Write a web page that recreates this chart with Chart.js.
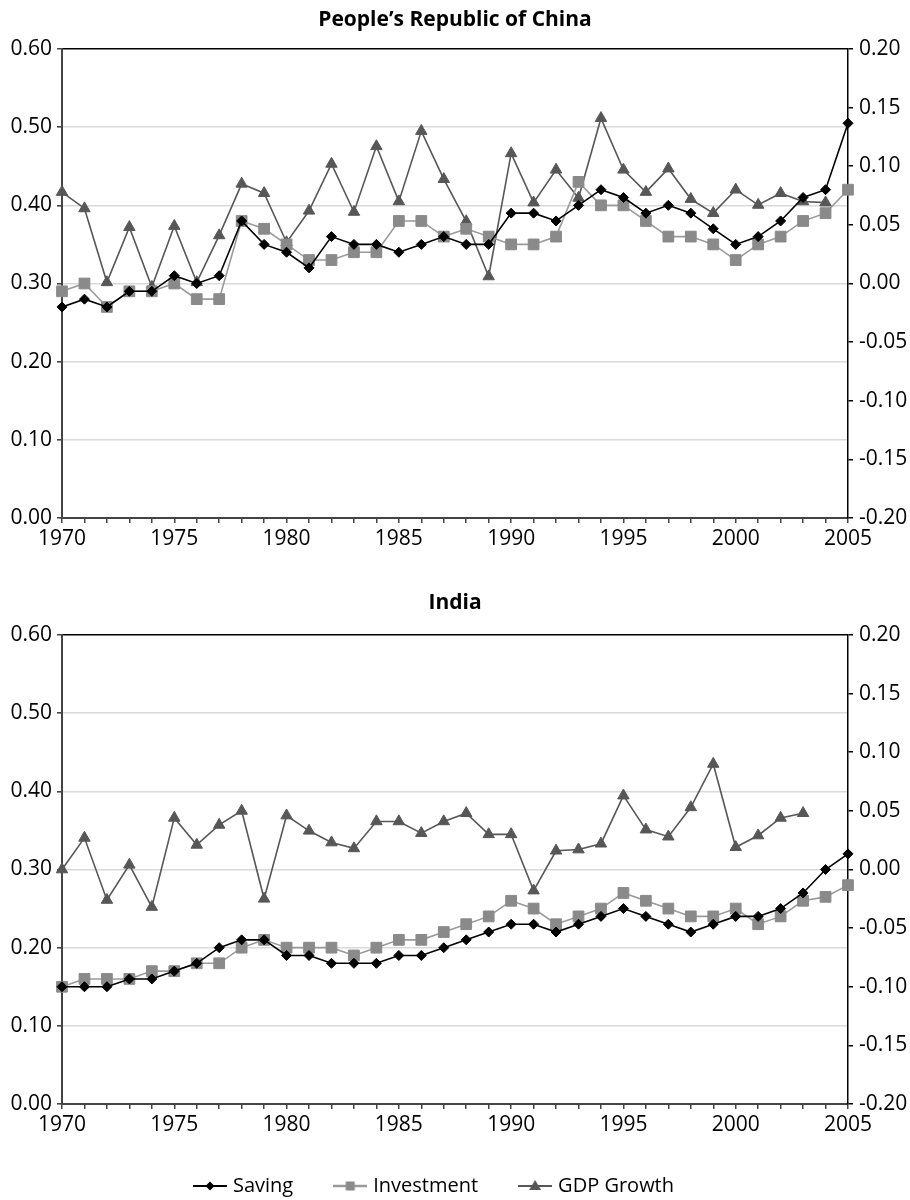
<!DOCTYPE html>
<html><head><meta charset="utf-8">
<script src="https://cdn.jsdelivr.net/npm/chart.js@4.4.0/dist/chart.umd.min.js"></script>
<style>
html,body{margin:0;padding:0;background:#fff;overflow:hidden;width:910px;height:1200px;}
#c1{position:absolute;left:0;top:0;}
#c2{position:absolute;left:0;top:580px;}
</style></head><body>
<canvas id="c1" width="910" height="580"></canvas>
<canvas id="c2" width="910" height="626"></canvas>
<script>
// ---- data ----
const years = [1970,1971,1972,1973,1974,1975,1976,1977,1978,1979,1980,1981,1982,1983,1984,1985,1986,1987,1988,1989,1990,1991,1992,1993,1994,1995,1996,1997,1998,1999,2000,2001,2002,2003,2004,2005];
const yearLabels = [1970,1975,1980,1985,1990,1995,2000,2005];
const seriesNames = ['Saving','Investment','GDP Growth'];
const chartTitles = ['People\u2019s Republic of China','India'];

const chinaSaving = [0.27,0.28,0.27,0.29,0.29,0.31,0.30,0.31,0.38,0.35,0.34,0.32,0.36,0.35,0.35,0.34,0.35,0.36,0.35,0.35,0.39,0.39,0.38,0.40,0.42,0.41,0.39,0.40,0.39,0.37,0.35,0.36,0.38,0.41,0.42,0.505];
const chinaInvestment = [0.29,0.30,0.27,0.29,0.29,0.30,0.28,0.28,0.38,0.37,0.35,0.33,0.33,0.34,0.34,0.38,0.38,0.36,0.37,0.36,0.35,0.35,0.36,0.43,0.40,0.40,0.38,0.36,0.36,0.35,0.33,0.35,0.36,0.38,0.39,0.42];
const chinaGDP = [0.078,0.064,0.001,0.048,-0.003,0.049,0.001,0.041,0.085,0.077,0.035,0.062,0.102,0.061,0.117,0.070,0.130,0.089,0.053,0.006,0.111,0.069,0.097,0.073,0.141,0.097,0.078,0.098,0.072,0.060,0.080,0.067,0.077,0.070,0.069,null];

const indiaSaving = [0.15,0.15,0.15,0.16,0.16,0.17,0.18,0.20,0.21,0.21,0.19,0.19,0.18,0.18,0.18,0.19,0.19,0.20,0.21,0.22,0.23,0.23,0.22,0.23,0.24,0.25,0.24,0.23,0.22,0.23,0.24,0.24,0.25,0.27,0.30,0.32];
const indiaInvestment = [0.15,0.16,0.16,0.16,0.17,0.17,0.18,0.18,0.20,0.21,0.20,0.20,0.20,0.19,0.20,0.21,0.21,0.22,0.23,0.24,0.26,0.25,0.23,0.24,0.25,0.27,0.26,0.25,0.24,0.24,0.25,0.23,0.24,0.26,0.265,0.28];
const indiaGDP = [0.000,0.027,-0.026,0.004,-0.032,0.044,0.021,0.038,0.050,-0.025,0.046,0.033,0.023,0.018,0.041,0.041,0.031,0.041,0.048,0.030,0.030,-0.018,0.016,0.017,0.022,0.063,0.034,0.028,0.053,0.090,0.019,0.029,0.044,0.048,null,null];

// ---- styles ----
const FONT = "'Open Sans', 'DejaVu Sans', sans-serif";
Chart.defaults.font.family = FONT;
Chart.defaults.color = '#000';
const C_SAV = '#000000', C_INV_LINE = '#9a9a9a', C_INV_PT = '#8a8a8a', C_GDP = '#575757';

function toPts(vals){ return years.map((y,i)=>({x:y, y:vals[i]})); }
function near(a,b){ return Math.abs(a-b) < 1e-6; }
function fmt(v){ return Math.abs(v) < 1e-9 ? '0.00' : Number(v).toFixed(2); }

function legendImg(kind){
  const c = document.createElement('canvas');
  c.width = 34; c.height = 14;
  const g = c.getContext('2d');
  const cy = 7, cx = 17;
  if (kind === 0){
    g.strokeStyle = C_SAV; g.lineWidth = 2;
    g.beginPath(); g.moveTo(0,cy); g.lineTo(34,cy); g.stroke();
    g.fillStyle = C_SAV; g.beginPath();
    g.moveTo(cx,cy-4.5); g.lineTo(cx+4.5,cy); g.lineTo(cx,cy+4.5); g.lineTo(cx-4.5,cy); g.closePath(); g.fill();
  } else if (kind === 1){
    g.strokeStyle = C_INV_LINE; g.lineWidth = 2.5;
    g.beginPath(); g.moveTo(0,cy); g.lineTo(34,cy); g.stroke();
    g.fillStyle = C_INV_PT; g.fillRect(cx-4.5,cy-4.5,9,9);
  } else {
    g.strokeStyle = C_GDP; g.lineWidth = 2;
    g.beginPath(); g.moveTo(0,cy); g.lineTo(34,cy); g.stroke();
    g.fillStyle = C_GDP; g.beginPath();
    g.moveTo(cx,cy-6); g.lineTo(cx+6,cy+4); g.lineTo(cx-6,cy+4); g.closePath(); g.fill();
  }
  return c;
}
const legendImgs = [legendImg(0), legendImg(1), legendImg(2)];

const legendShift = {
  id: 'legendShift',
  afterLayout(chart, args, opts){
    if (chart.legend && opts && opts.dx){
      chart.legend.left += opts.dx; chart.legend.right += opts.dx;
    }
  }
};

function makeChart(id, title, saving, investment, gdp, o){
  const cfg = {
    type: 'line',
    data: {
      datasets: [
        { label: seriesNames[0], data: toPts(saving), yAxisID: 'y',
          borderColor: C_SAV, borderWidth: 1.6, backgroundColor: C_SAV,
          pointStyle: 'rectRot', pointRadius: 5, pointBackgroundColor: C_SAV, pointBorderColor: C_SAV, pointBorderWidth: 1,
          tension: 0, clip: false },
        { label: seriesNames[1], data: toPts(investment), yAxisID: 'y',
          borderColor: C_INV_LINE, borderWidth: 1.6, backgroundColor: C_INV_PT,
          pointStyle: 'rect', pointRadius: 7.6, pointBackgroundColor: C_INV_PT, pointBorderColor: C_INV_PT, pointBorderWidth: 1,
          tension: 0, clip: false },
        { label: seriesNames[2], data: toPts(gdp), yAxisID: 'y1',
          borderColor: C_GDP, borderWidth: 1.6, backgroundColor: C_GDP,
          pointStyle: 'triangle', pointRadius: 6.6, pointBackgroundColor: C_GDP, pointBorderColor: C_GDP, pointBorderWidth: 1,
          tension: 0, clip: false, spanGaps: false }
      ]
    },
    options: {
      responsive: false, animation: false, devicePixelRatio: 1,
      layout: { padding: 0 },
      events: [],
      plugins: {
        title: { display: true, text: title, color: '#000',
          font: { size: 21, weight: 'bold', family: FONT },
          padding: { top: o.titleTop, bottom: o.titleBottom } },
        legend: o.legend ? {
          display: true, position: 'bottom',
          labels: { usePointStyle: true, pointStyleWidth: 26, padding: 44, color: '#000',
            font: { size: 20, family: FONT },
            generateLabels: (chart) => {
              const items = Chart.defaults.plugins.legend.labels.generateLabels(chart);
              items.forEach((it,i)=>{ it.pointStyle = legendImgs[i]; it.lineWidth = 0; });
              return items;
            } }
        } : { display: false },
        legendShift: { dx: o.legendDx || 0 },
        tooltip: { enabled: false }
      },
      scales: {
        x: { type: 'linear', min: 1970, max: 2005, position: 'bottom',
          afterFit: (s)=>{ s.height = o.xHeight; },
          ticks: { stepSize: 1, autoSkip: false, maxRotation: 0, minRotation: 0, padding: 3,
            font: { size: 21, family: FONT }, color: '#000',
            callback: (v)=> yearLabels.includes(v) ? String(v) : '' },
          grid: { display: true, drawOnChartArea: false, drawTicks: true, tickLength: 5, color: '#444', lineWidth: 1.5 },
          border: { display: true, color: '#444', width: 2 } },
        y: { type: 'linear', position: 'left', min: 0, max: 0.6,
          afterFit: (s)=>{ s.width = 62; },
          ticks: { stepSize: 0.1, autoSkip: false, padding: 5, font: { size: 21, family: FONT }, color: '#000',
            callback: (v)=> fmt(v) },
          grid: { drawTicks: true, tickLength: 5, tickColor: '#444',
            color: (c)=> near(c.tick.value,0.6) ? '#000' : (near(c.tick.value,0) ? 'rgba(0,0,0,0)' : '#d9d9d9'),
            lineWidth: (c)=> near(c.tick.value,0.6) ? 1.5 : 1.6 },
          border: { display: true, color: '#444', width: 2 } },
        y1: { type: 'linear', position: 'right', min: -0.2, max: 0.2,
          afterFit: (s)=>{ s.width = 62; },
          ticks: { stepSize: 0.05, autoSkip: false, padding: 6, font: { size: 21, family: FONT }, color: '#000',
            callback: (v)=> fmt(v) },
          grid: { drawOnChartArea: false, drawTicks: true, tickLength: 5, color: '#000', lineWidth: 1.5 },
          border: { display: true, color: '#000', width: 1.5 } }
      }
    },
    plugins: [legendShift]
  };
  return new Chart(document.getElementById(id), cfg);
}

makeChart('c1', chartTitles[0], chinaSaving, chinaInvestment, chinaGDP,
  { titleTop: 7.4, titleBottom: 16.4, xHeight: 62, legend: false });
makeChart('c2', chartTitles[1], indiaSaving, indiaInvestment, indiaGDP,
  { titleTop: 10.9, titleBottom: 18.9, xHeight: 28, legend: true, legendDx: -19.5 });
</script>
</body></html>
